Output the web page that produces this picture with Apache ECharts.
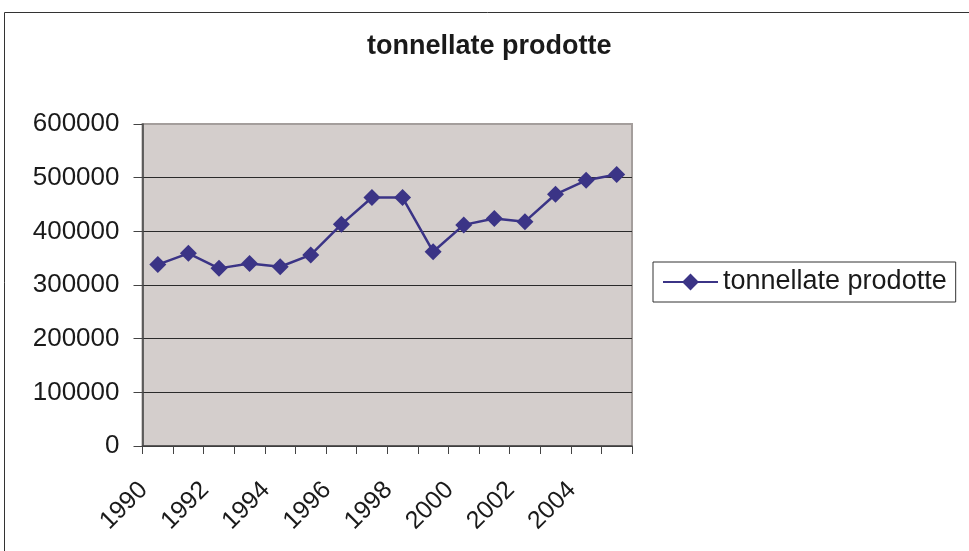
<!DOCTYPE html>
<html>
<head>
<meta charset="utf-8">
<title>tonnellate prodotte</title>
<script src="https://cdn.jsdelivr.net/npm/echarts@6/dist/echarts.min.js"></script>
<style>
    html, body { margin: 0; padding: 0; background: #fff; }
    #chart-line { width: 969px; height: 551px; }
</style>
</head>
<body>
<div id="chart-line"></div>
<script>
//anni (categorie asse x)
var anni = ['1990', '1991', '1992', '1993', '1994', '1995', '1996', '1997',
    '1998', '1999', '2000', '2001', '2002', '2003', '2004', '2005'];

//tonnellate prodotte per anno
var tonnellate = [338000, 359000, 331000, 340000, 334000, 356000, 413000, 463000,
    463000, 362000, 412000, 424000, 418000, 469000, 495000, 506000];

var nomeSerie = 'tonnellate prodotte';
var titolo = 'tonnellate prodotte';

var font = '"Liberation Sans", Arial, sans-serif';

var chartMain = document.getElementById('chart-line');
var mychart = echarts.init(chartMain);

var option_line = {
    backgroundColor: '#fff',
    animation: false,
    title: {
        text: titolo,
        left: 367,
        top: 33,
        padding: 0,
        textStyle: {
            fontFamily: font,
            fontSize: 27,
            fontWeight: 'bold',
            color: '#1a1a1a'
        }
    },
    legend: {
        data: [nomeSerie],
        left: 653,
        top: 262,
        orient: 'vertical',
        padding: [6, 9, 6, 9],
        borderColor: '#333',
        borderWidth: 1,
        itemWidth: 55,
        itemHeight: 21,
        textStyle: {
            fontFamily: font,
            fontSize: 27,
            lineHeight: 28,
            color: '#1a1a1a'
        }
    },
    grid: {
        left: 142.5,
        right: 337,
        top: 124,
        bottom: 105,
        show: true,
        backgroundColor: '#d4cecc',
        borderColor: '#a49e9c',
        borderWidth: 2
    },
    xAxis: {
        type: 'category',
        data: anni,
        boundaryGap: true,
        axisLine: {
            lineStyle: { color: '#444', width: 1.5 }
        },
        axisTick: {
            show: true,
            interval: 0,
            length: 8,
            lineStyle: { color: '#444' }
        },
        axisLabel: {
            interval: 1,
            rotate: 45,
            margin: 26,
            padding: [0, 20, 0, 0],
            fontFamily: font,
            fontSize: 25,
            color: '#1a1a1a'
        },
        splitLine: { show: false }
    },
    yAxis: {
        type: 'value',
        min: 0,
        max: 600000,
        interval: 100000,
        axisLine: {
            show: true,
            lineStyle: { color: '#444', width: 1.5 }
        },
        axisTick: {
            show: true,
            length: 9,
            lineStyle: { color: '#444' }
        },
        axisLabel: {
            margin: 23,
            fontFamily: font,
            fontSize: 26,
            color: '#1a1a1a',
            //numeri senza separatore delle migliaia
            formatter: function (value) {
                return String(value);
            }
        },
        splitLine: {
            showMaxLine: false,
            lineStyle: { color: '#2a2a2a', width: 1 }
        }
    },
    series: [
        {
            name: nomeSerie,
            type: 'line',
            data: tonnellate,
            symbol: 'diamond',
            symbolSize: 17,
            lineStyle: { color: '#3b3486', width: 2.5 },
            itemStyle: { color: '#3b3486' }
        }
    ],
    graphic: [
        {
            //cornice esterna del grafico
            type: 'rect',
            silent: true,
            shape: { x: 4.5, y: 12.5, width: 1000, height: 1000 },
            style: { fill: null, stroke: '#333', lineWidth: 1 }
        }
    ]
};

mychart.setOption(option_line);
</script>
</body>
</html>
